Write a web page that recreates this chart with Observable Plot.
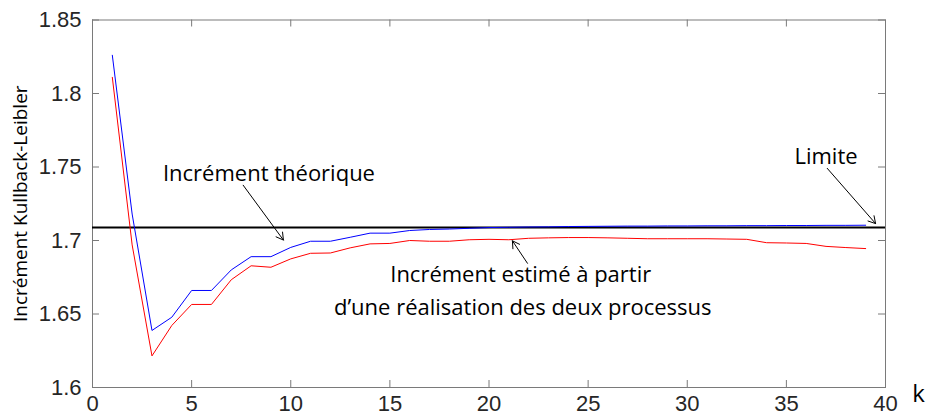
<!DOCTYPE html>
<html>
<head>
<meta charset="utf-8">
<script src="https://cdn.jsdelivr.net/npm/d3@7"></script>
<script src="https://cdn.jsdelivr.net/npm/@observablehq/plot@0.6"></script>
<style>
  html, body { margin: 0; padding: 0; background: #fff; }
  #chart svg { display: block; }
</style>
</head>
<body>
<div id="chart"></div>
<script>
const kValues = [1,2,3,4,5,6,7,8,9,10,11,12,13,14,15,16,17,18,19,20,21,22,23,24,25,26,27,28,29,30,31,32,33,34,35,36,37,38,39];
const theoretical = [1.826,1.718,1.6388,1.6478,1.666,1.666,1.680,1.689,1.689,1.6953,1.6995,1.6995,1.7022,1.705,1.705,1.7068,1.7075,1.7078,1.7083,1.7088,1.709,1.7092,1.7093,1.7095,1.7096,1.7097,1.7098,1.7098,1.7099,1.7099,1.71,1.71,1.7101,1.7101,1.7102,1.7102,1.7103,1.7103,1.7104];
const estimated = [1.811,1.697,1.6215,1.6422,1.6565,1.6565,1.6733,1.6828,1.6818,1.6875,1.6913,1.6915,1.695,1.6977,1.698,1.700,1.6995,1.6995,1.7005,1.7008,1.7005,1.7015,1.7018,1.702,1.702,1.7018,1.7015,1.7012,1.7012,1.7012,1.7012,1.701,1.7008,1.6985,1.6983,1.698,1.696,1.6952,1.6945];
const limitValue = 1.7088;
const xTicks = [0,5,10,15,20,25,30,35,40];
const yTicks = [1.6,1.65,1.7,1.75,1.8,1.85];
const yLabel = "Incrément Kullback-Leibler";
const xLabel = "k";

// annotation texts and arrows (data units)
const labels = [
  {k: 8.9, v: 1.7456, text: "Incrément théorique"},
  {k: 37.0, v: 1.7566, text: "Limite"},
  {k: 21.6, v: 1.6763, text: "Incrément estimé à partir"},
  {k: 21.7, v: 1.6538, text: "d’une réalisation des deux processus"}
];
const arrows = [
  {k1: 7.6, v1: 1.7376, k2: 9.63, v2: 1.7003},
  {k1: 37.06, v1: 1.7491, k2: 39.5, v2: 1.7115},
  {k1: 21.94, v1: 1.6845, k2: 21.18, v2: 1.6998}
];

const blue = kValues.map((k, i) => ({k, v: theoretical[i]}));
const red = kValues.map((k, i) => ({k, v: estimated[i]}));

const W = 928, H = 420, mT = 19.5, mB = 33, mL = 92, mR = 43;
const innerH = H - mT - mB, innerW = W - mL - mR;
const tick = 7;
const tickFmt = d => String(+d.toFixed(2));
const annoFont = "'Open Sans', 'Noto Sans', sans-serif";

const chart = Plot.plot({
  width: W, height: H,
  marginTop: mT, marginBottom: mB, marginLeft: mL, marginRight: mR,
  style: {fontFamily: "'Liberation Sans', Arial, sans-serif", background: "#fff", color: "#262626", overflow: "visible"},
  x: {domain: [0, 40]},
  y: {domain: [1.6, 1.85]},
  marks: [
    Plot.frame({stroke: "#7a7a7a", strokeWidth: 1}),
    // inward ticks
    Plot.tickX(xTicks, {x: d => d, stroke: "#7a7a7a", insetTop: innerH - tick}),
    Plot.tickX(xTicks, {x: d => d, stroke: "#7a7a7a", insetBottom: innerH - tick}),
    Plot.tickY(yTicks, {y: d => d, stroke: "#7a7a7a", insetRight: innerW - tick}),
    Plot.tickY(yTicks, {y: d => d, stroke: "#7a7a7a", insetLeft: innerW - tick}),
    Plot.axisX({ticks: xTicks, tickSize: 0, tickPadding: 8, fontSize: 22, tickFormat: d => d, label: null}),
    Plot.axisY({ticks: yTicks, tickSize: 0, tickPadding: 11, fontSize: 22, tickFormat: tickFmt, label: null}),
    Plot.text([yLabel], {text: d => d, frameAnchor: "left", textAnchor: "middle", rotate: -90, dx: -72, fontSize: 19, fontFamily: annoFont, fill: "#000"}),
    Plot.text([xLabel], {text: d => d, frameAnchor: "bottom-right", textAnchor: "middle", dx: 33, dy: 14, fontSize: 24, fontFamily: annoFont, fill: "#000"}),
    Plot.ruleY([limitValue], {stroke: "#000", strokeWidth: 2}),
    Plot.line(red, {x: "k", y: "v", stroke: "#ff0000", strokeWidth: 1}),
    Plot.line(blue, {x: "k", y: "v", stroke: "#0000ff", strokeWidth: 1}),
    Plot.arrow(arrows, {x1: "k1", y1: "v1", x2: "k2", y2: "v2", stroke: "#000", strokeWidth: 1, headLength: 12}),
    Plot.text(labels, {x: "k", y: "v", text: "text", fontSize: 22, fontFamily: annoFont, fill: "#000"})
  ]
});
document.getElementById("chart").appendChild(chart);
</script>
</body>
</html>
